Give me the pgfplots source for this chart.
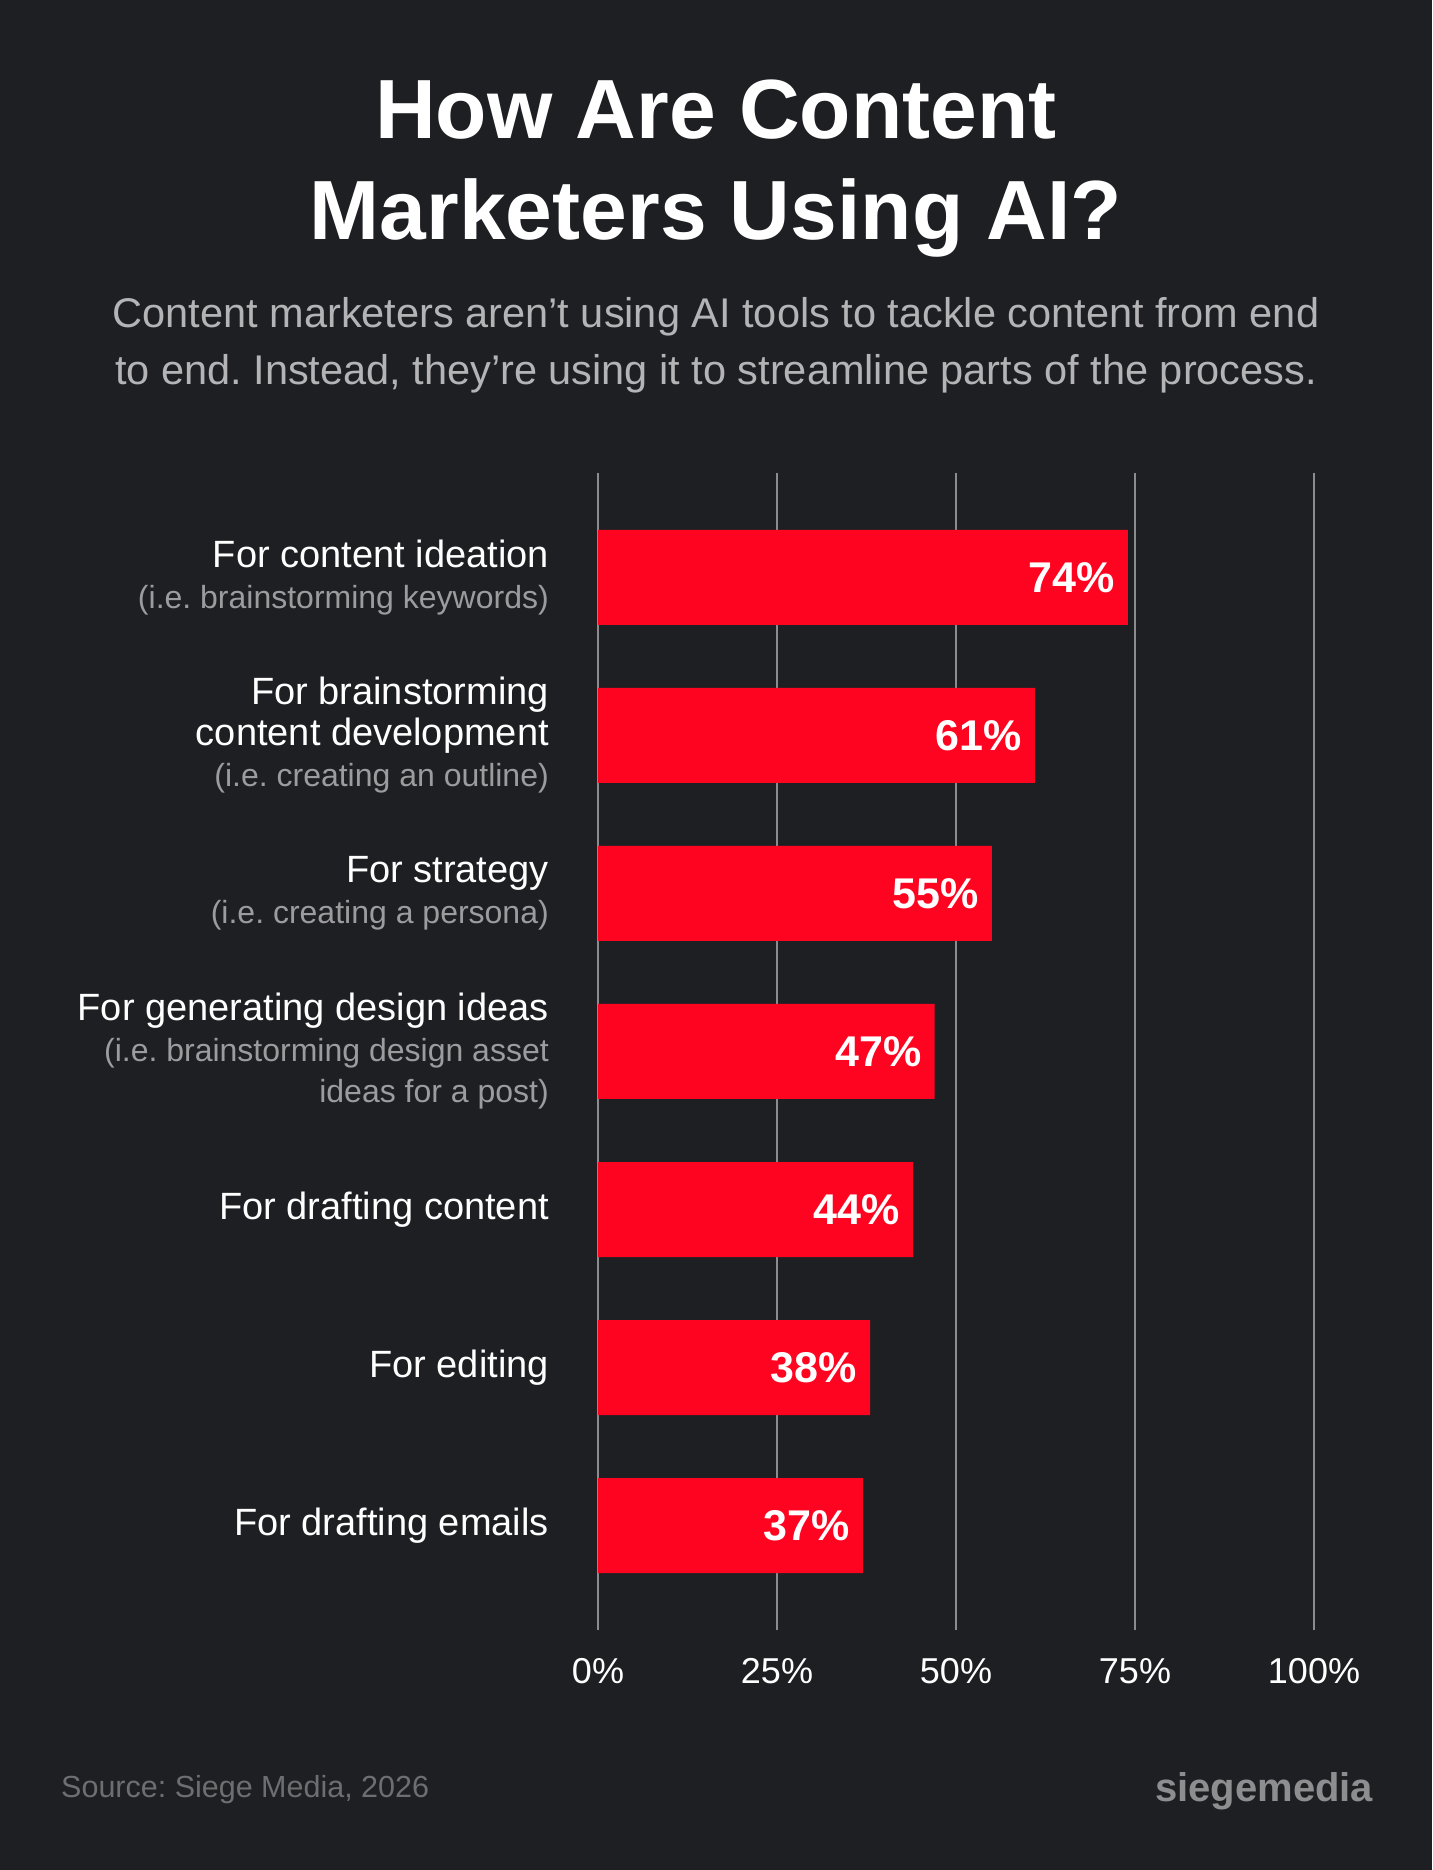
\documentclass[border=0pt]{standalone}
\usepackage{fontspec}
\setmainfont{Liberation Sans}
\usepackage{pgfplots}
\pgfplotsset{compat=1.18}
\frenchspacing

\definecolor{bg}{HTML}{1E1F23}
\definecolor{barred}{HTML}{FF0420}
\definecolor{gridgray}{HTML}{8C8C8E}
\definecolor{subgray}{HTML}{9C9C9E}
\definecolor{subtitlegray}{HTML}{B4B4B6}
\definecolor{sourcegray}{HTML}{6E6E70}
\definecolor{logogray}{HTML}{8E8E90}

\newcommand{\sub}[1]{{\color{subgray}\fontsize{32}{38}\selectfont #1}}

\begin{document}
\begin{tikzpicture}[x=1pt,y=1pt]
  \useasboundingbox (0,0) rectangle (1432,1870);
  \fill[bg] (0,0) rectangle (1432,1870);

  % title and subtitle
  \node[anchor=base, text=white, font=\fontsize{84}{100}\selectfont\bfseries, inner sep=0pt]
    at (716,1731) {How Are Content};
  \node[anchor=base, text=white, font=\fontsize{84}{100}\selectfont\bfseries, inner sep=0pt]
    at (716,1630) {Marketers Using AI?};
  \node[anchor=base, text=subtitlegray, font=\fontsize{41.5}{48}\selectfont, inner sep=0pt]
    at (716,1542) {Content marketers aren’t using AI tools to tackle content from end};
  \node[anchor=base, text=subtitlegray, font=\fontsize{41.5}{48}\selectfont, inner sep=0pt]
    at (716,1485) {to end. Instead, they’re using it to streamline parts of the process.};

  \begin{axis}[
      at={(598pt,240pt)}, anchor=south west,
      scale only axis,
      width=716pt, height=1157pt,
      xbar, bar width=95pt,
      xmin=0, xmax=100,
      ymin=-0.66, ymax=6.66,
      y dir=reverse,
      axis line style={draw=none},
      major tick length=0pt,
      xmajorgrids,
      major grid style={draw=gridgray, line width=1.1pt},
      xtick={0,25,50,75,100},
      xticklabels={0\%,25\%,50\%,75\%,100\%},
      xticklabel style={anchor=base, inner sep=0pt, yshift=-53pt, text=white,
        font=\fontsize{36}{40}\selectfont},
      ytick={0,1,2,3,4,5,6},
      yticklabels={
        {For content ideation\\\sub{(i.e. brainstorming keywords)}},
        {For brainstorming\\content development\\\sub{(i.e. creating an outline)}},
        {For strategy\\\sub{(i.e. creating a persona)}},
        {For generating design ideas\\\sub{(i.e. brainstorming design asset}\\\sub{ideas for a post)}},
        {For drafting content},
        {For editing},
        {For drafting emails}
      },
      yticklabel style={align=right, text=white, inner sep=0pt, xshift=-49pt,
        font=\fontsize{38}{41}\selectfont},
      /pgf/number format/assume math mode=true,
      nodes near coords={\pgfmathprintnumber{\pgfplotspointmeta}\%},
      every node near coord/.append style={anchor=east, text=white, inner sep=0pt,
        xshift=-13pt, font=\fontsize{43}{43}\selectfont\bfseries},
    ]
    \addplot[fill=barred, draw=none] coordinates {
      (74,0) (61,1) (55,2) (47,3) (44,4) (38,5) (37,6)
    };
  \end{axis}

  % footer
  \node[anchor=base west, text=sourcegray, font=\fontsize{30.5}{34}\selectfont, inner sep=0pt]
    at (61,72) {Source: Siege Media, 2026};
  \node[anchor=base west, text=logogray, font=\fontsize{40}{44}\selectfont\bfseries, inner sep=0pt]
    at (1155,68) {siegemedia};
\end{tikzpicture}
\end{document}
